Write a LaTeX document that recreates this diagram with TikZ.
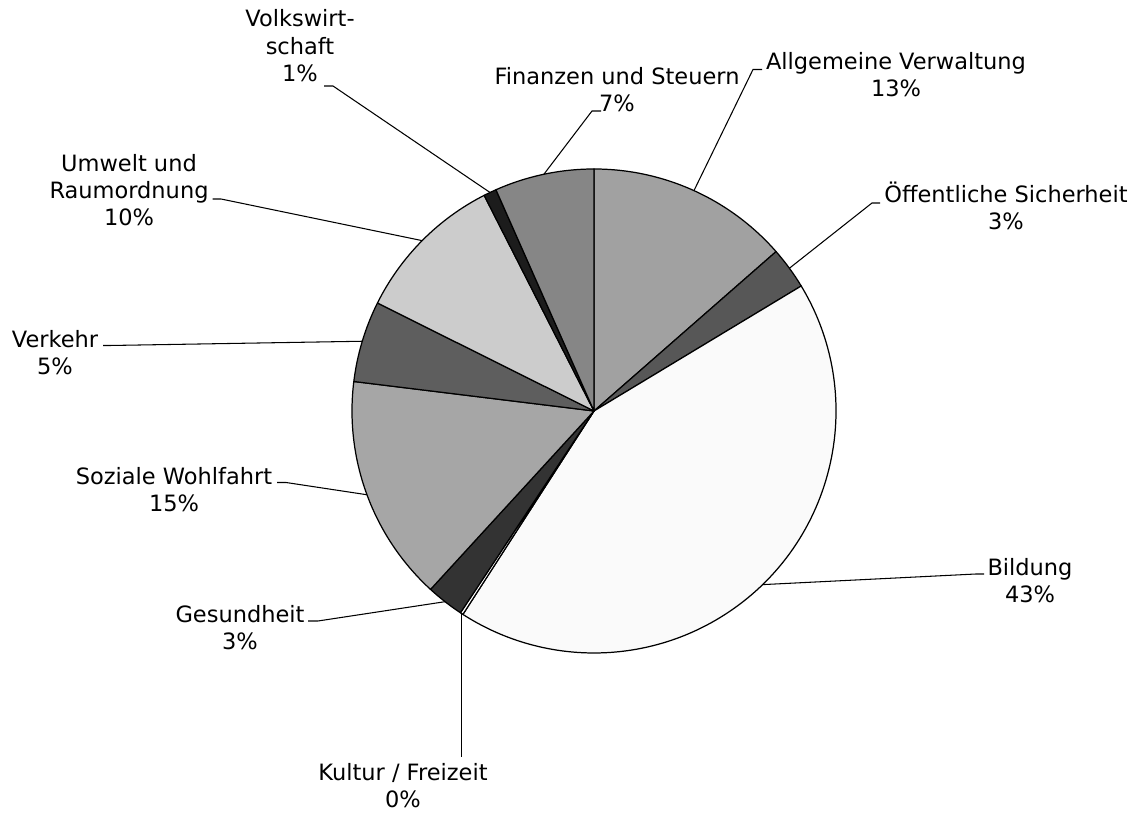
\documentclass[tikz,border=0pt]{standalone}
\usepackage{fontspec}
\setmainfont{DejaVu Sans}
\usetikzlibrary{calc}

\definecolor{verwaltung}{gray}{0.63}
\definecolor{sicherheit}{gray}{0.34}
\definecolor{bildung}{gray}{0.98}
\definecolor{kultur}{gray}{1.0}
\definecolor{gesundheit}{gray}{0.2}
\definecolor{wohlfahrt}{gray}{0.65}
\definecolor{verkehr}{gray}{0.37}
\definecolor{umwelt}{gray}{0.8}
\definecolor{volkswirt}{gray}{0.11}
\definecolor{finanzen}{gray}{0.525}

\begin{document}
\begin{tikzpicture}[x=0.02cm, y=0.02cm,
    slice/.style={draw=black, line width=0.7pt, line join=round},
    leader/.style={draw=black, line width=0.6pt},
    lbl/.style={align=center, inner sep=0pt, anchor=base, font=\fontsize{12.8}{15.65}\selectfont}]
    \useasboundingbox (0,0) rectangle (1137,-813);
    \coordinate (ctr) at (594,-411);

    % slices, clockwise from the top
    \filldraw [slice, fill=verwaltung] (ctr) -- ++(90:242) arc [start angle=90, end angle=41.2, radius=242] -- cycle;
    \filldraw [slice, fill=sicherheit] (ctr) -- ++(41.2:242) arc [start angle=41.2, end angle=31.1, radius=242] -- cycle;
    \filldraw [slice, fill=bildung] (ctr) -- ++(31.1:242) arc [start angle=31.1, end angle=-122.8, radius=242] -- cycle;
    \filldraw [slice, fill=kultur] (ctr) -- ++(-122.8:242) arc [start angle=-122.8, end angle=-123.5, radius=242] -- cycle;
    \filldraw [slice, fill=gesundheit] (ctr) -- ++(-123.5:242) arc [start angle=-123.5, end angle=-132.5, radius=242] -- cycle;
    \filldraw [slice, fill=wohlfahrt] (ctr) -- ++(-132.5:242) arc [start angle=-132.5, end angle=-187, radius=242] -- cycle;
    \filldraw [slice, fill=verkehr] (ctr) -- ++(-187:242) arc [start angle=-187, end angle=-206.5, radius=242] -- cycle;
    \filldraw [slice, fill=umwelt] (ctr) -- ++(-206.5:242) arc [start angle=-206.5, end angle=-243, radius=242] -- cycle;
    \filldraw [slice, fill=volkswirt] (ctr) -- ++(-243:242) arc [start angle=-243, end angle=-246.1, radius=242] -- cycle;
    \filldraw [slice, fill=finanzen] (ctr) -- ++(-246.1:242) arc [start angle=-246.1, end angle=-270, radius=242] -- cycle;

    % points on the rim
    \coordinate (pVerw) at ($(ctr)+(65.6:242)$);
    \coordinate (pSich) at ($(ctr)+(36.15:242)$);
    \coordinate (pBild) at ($(ctr)+(-45.85:242)$);
    \coordinate (pKult) at ($(ctr)+(-123.15:242)$);
    \coordinate (pGesu) at ($(ctr)+(-128:242)$);
    \coordinate (pWohl) at ($(ctr)+(-159.75:242)$);
    \coordinate (pVerk) at ($(ctr)+(163.25:242)$);
    \coordinate (pUmwe) at ($(ctr)+(135.25:242)$);
    \coordinate (pVolk) at ($(ctr)+(115.45:242)$);
    \coordinate (pFina) at ($(ctr)+(101.95:242)$);

    % labels
    \node [lbl] (verw) at (896,-96.7) {Allgemeine Verwaltung\\13\%};
    \node [lbl] (sich) at (1006,-230) {Öffentliche Sicherheit\\3\%};
    \node [lbl] (bild) at (1030,-603) {Bildung\\43\%};
    \node [lbl] (kult) at (403,-808) {Kultur / Freizeit\\0\%};
    \node [lbl] (gesu) at (240,-650) {Gesundheit\\3\%};
    \node [lbl] (wohl) at (174,-511.7) {Soziale Wohlfahrt\\15\%};
    \node [lbl] (verk) at (55,-375) {Verkehr\\5\%};
    \node [lbl] (umwe) at (129,-226) {Umwelt und\\Raumordnung\\10\%};
    \node [lbl] (volk) at (300,-81.7) {Volkswirt-\\schaft\\1\%};
    \node [lbl] (fina) at (617,-111.7) {Finanzen und Steuern\\7\%};

    % leader lines
    \coordinate (eVerw) at (753,-69.5);  \coordinate (tVerw) at (762,-69.5);
    \coordinate (eSich) at (872,-203);   \coordinate (tSich) at (880,-203);
    \coordinate (eBild) at (976,-574);   \coordinate (tBild) at (984,-574);
    \coordinate (tKult) at (pKult |- 0,-757);
    \coordinate (eGesu) at (318,-621);   \coordinate (tGesu) at (308,-621);
    \coordinate (eWohl) at (286,-482.5); \coordinate (tWohl) at (277,-482.5);
    \coordinate (eVerk) at (110,-345.5); \coordinate (tVerk) at (103,-345.5);
    \coordinate (eUmwe) at (221,-199);   \coordinate (tUmwe) at (212.5,-199);
    \coordinate (eVolk) at (333,-86);    \coordinate (tVolk) at (324,-86);
    \coordinate (eFina) at (592,-111);   \coordinate (tFina) at (601,-111);

    \draw [leader] (pVerw) -- (eVerw) -- (tVerw);
    \draw [leader] (pSich) -- (eSich) -- (tSich);
    \draw [leader] (pBild) -- (eBild) -- (tBild);
    \draw [leader] (pKult) -- (tKult);
    \draw [leader] (pGesu) -- (eGesu) -- (tGesu);
    \draw [leader] (pWohl) -- (eWohl) -- (tWohl);
    \draw [leader] (pVerk) -- (eVerk) -- (tVerk);
    \draw [leader] (pUmwe) -- (eUmwe) -- (tUmwe);
    \draw [leader] (pVolk) -- (eVolk) -- (tVolk);
    \draw [leader] (pFina) -- (eFina) -- (tFina);
\end{tikzpicture}
\end{document}
